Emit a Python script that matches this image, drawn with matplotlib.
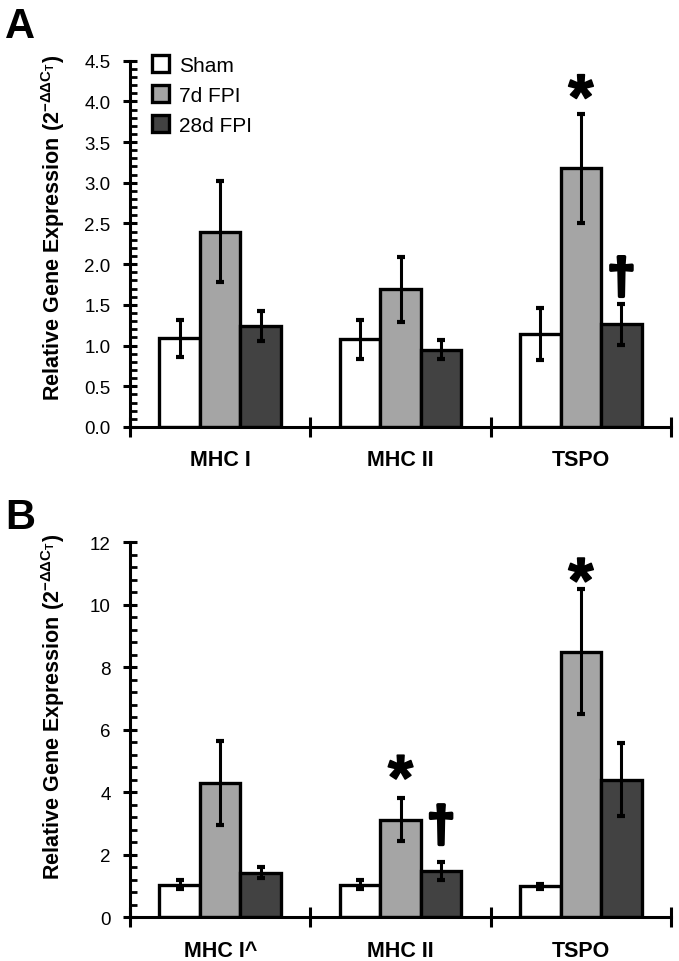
import numpy as np
import matplotlib
matplotlib.use("Agg")
import matplotlib.pyplot as plt
import matplotlib.patheffects as pe
from matplotlib.ticker import MultipleLocator, FixedLocator

plt.rcParams['font.family'] = ['Liberation Sans', 'DejaVu Sans']
plt.rcParams['mathtext.fontset'] = 'custom'
plt.rcParams['mathtext.rm'] = 'Liberation Sans'
plt.rcParams['mathtext.it'] = 'Liberation Sans:italic'
plt.rcParams['mathtext.bf'] = 'Liberation Sans:bold'

# data
groups = ["Sham", "7d FPI", "28d FPI"]
colors = ["white", "#a5a5a5", "#424242"]

cats_a = ["MHC I", "MHC II", "TSPO"]
mean_a = [[1.09, 1.08, 1.14],   # Sham
          [2.40, 1.69, 3.18],   # 7d FPI
          [1.24, 0.95, 1.26]]   # 28d FPI
err_a = [[0.23, 0.24, 0.32],
         [0.62, 0.40, 0.67],
         [0.18, 0.12, 0.25]]

cats_b = ["MHC I^", "MHC II", "TSPO"]
mean_b = [[1.05, 1.05, 1.00],
          [4.30, 3.12, 8.50],
          [1.43, 1.48, 4.40]]
err_b = [[0.14, 0.14, 0.08],
         [1.33, 0.69, 2.00],
         [0.18, 0.30, 1.17]]

# significance marks: (category, group, y, symbol)
marks_a = [(2, 1, 4.19, "*"), (2, 2, 1.86, "\u2020")]
marks_b = [(1, 1, 4.84, "*"), (1, 2, 3.00, "\u2020"), (2, 1, 11.15, "*")]

fig = plt.figure(figsize=(6.79, 9.62), dpi=100)
ax_a = fig.add_axes([0.1915, 0.5551, 0.7968, 0.3808])
ax_b = fig.add_axes([0.1915, 0.0454, 0.7968, 0.3898])

width = 0.225
ylabel = r'Relative Gene Expression (2$^{\mathregular{-\Delta\Delta C_T}}$)'


def draw(ax, cats, means, errs, marks, ymax, major, minor, fmt, label_y):
    x = np.arange(len(cats))
    for i in range(3):
        ax.bar(x + (i - 1) * width, means[i], width, color=colors[i],
               edgecolor="black", linewidth=2.4, label=groups[i], zorder=2)
        ax.errorbar(x + (i - 1) * width, means[i], yerr=errs[i], fmt="none",
                    ecolor="black", elinewidth=2.2, capsize=3, capthick=3, zorder=3)
    # offsets put the glyph ink centre on the given y
    for c, g, y, s in marks:
        if s == "*":
            t = ax.text(c + (g - 1) * width, y - 0.043 * ymax, s, ha="center",
                        va="center", fontsize=46, fontweight="bold", zorder=4)
            t.set_path_effects([pe.withStroke(linewidth=1.2, foreground="black")])
        else:
            t = ax.text(c + (g - 1) * width, y - 0.012 * ymax, s, ha="center",
                        va="center", fontsize=36, fontweight="bold", zorder=4)
            t.set_path_effects([pe.withStroke(linewidth=2.5, foreground="black")])
    ax.set_xlim(-0.5, 2.5)
    ax.set_ylim(0, ymax)
    ax.xaxis.set_major_locator(FixedLocator([-0.5, 0.5, 1.5, 2.5]))
    ax.xaxis.set_minor_locator(FixedLocator(x))
    ax.set_xticklabels([])
    ax.set_xticklabels(cats, minor=True, fontsize=15.5, fontweight="bold")
    ax.tick_params(axis="x", which="major", direction="inout", length=14, width=2.2)
    ax.tick_params(axis="x", which="minor", length=0, pad=16)
    ax.yaxis.set_major_locator(MultipleLocator(major))
    ax.yaxis.set_minor_locator(MultipleLocator(minor))
    ax.yaxis.set_major_formatter(fmt)
    ax.tick_params(axis="y", which="major", direction="inout", length=10, width=2.2,
                   labelsize=13.5, pad=9)
    ax.tick_params(axis="y", which="minor", direction="in", length=5, width=2)
    for side in ["top", "right"]:
        ax.spines[side].set_visible(False)
    for side in ["left", "bottom"]:
        ax.spines[side].set_linewidth(2.2)
    ax.set_ylabel(ylabel, fontsize=15.5, fontweight="bold")
    ax.yaxis.set_label_coords(-0.117, label_y)


draw(ax_a, cats_a, mean_a, err_a, marks_a, 4.5, 0.5, 0.1, "{x:.1f}", 0.547)
draw(ax_b, cats_b, mean_b, err_b, marks_b, 12, 2, 0.4, "{x:.0f}", 0.563)

leg = ax_a.legend(loc="upper left", bbox_to_anchor=(0.04, 1.015), frameon=False,
                  fontsize=15, handlelength=0.85, handleheight=0.85,
                  handletextpad=0.45, labelspacing=0.5, borderaxespad=0,
                  borderpad=0)

fig.text(0.008, 0.9605, "A", fontsize=30, fontweight="bold")
fig.text(0.008, 0.450, "B", fontsize=30, fontweight="bold")

fig.savefig("out.png", dpi=100)
